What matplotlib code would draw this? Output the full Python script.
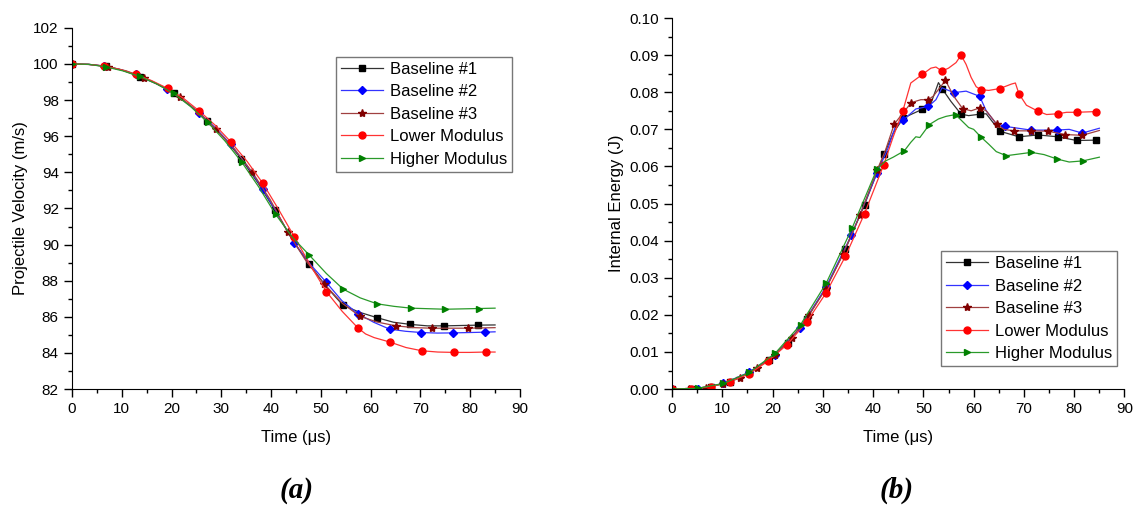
import matplotlib
matplotlib.use("Agg")
import matplotlib.pyplot as plt
from matplotlib.ticker import MultipleLocator, FormatStrFormatter

plt.rcParams['font.family'] = ['Liberation Sans', 'DejaVu Sans']

labels = ['Baseline #1', 'Baseline #2', 'Baseline #3', 'Lower Modulus', 'Higher Modulus']
colors = ['black', '#0000ff', '#800000', '#ff0000', '#008000']
line_colors = ['#333333', '#3333ff', '#a04040', '#ff3333', '#2a9a2a']
markers = ['s', 'D', '*', 'o', '>']
msizes = [4.5, 4, 6, 5, 5]

# (a) projectile velocity, m/s; marker points
vel_t = [
    [0, 6.8, 13.6, 20.4, 27.2, 34.0, 40.8, 47.6, 54.4, 61.2, 68.0, 74.8, 81.6],
    [0, 6.4, 12.8, 19.1, 25.5, 31.9, 38.3, 44.7, 51.0, 57.4, 63.8, 70.2, 76.6, 82.9],
    [0, 7.2, 14.5, 21.7, 28.9, 36.2, 43.4, 50.7, 57.9, 65.1, 72.4, 79.6],
    [0, 6.4, 12.8, 19.2, 25.6, 32.0, 38.3, 44.7, 51.1, 57.5, 63.9, 70.3, 76.7, 83.1],
    [0, 6.8, 13.6, 20.4, 27.3, 34.1, 40.9, 47.7, 54.5, 61.3, 68.1, 75.0, 81.8],
]
vel_v = [
    [100, 99.88, 99.3, 98.4, 96.85, 94.75, 91.9, 88.95, 86.65, 85.96, 85.58, 85.5, 85.54],
    [100, 99.88, 99.42, 98.62, 97.3, 95.55, 93.1, 90.07, 87.94, 86.18, 85.32, 85.13, 85.11, 85.15],
    [100, 99.86, 99.25, 98.15, 96.4, 94.02, 90.67, 87.81, 86.02, 85.5, 85.37, 85.37],
    [100, 99.88, 99.42, 98.65, 97.39, 95.66, 93.41, 90.42, 87.4, 85.37, 84.6, 84.12, 84.03, 84.05],
    [100, 99.84, 99.31, 98.37, 96.76, 94.57, 91.68, 89.41, 87.53, 86.72, 86.48, 86.42, 86.46],
]
# line-only points between markers
vel_tx = [
    [3.4, 10.2, 17.0, 23.8, 30.6, 37.4, 44.2, 51.0, 57.8, 64.6, 71.4, 78.2, 85.0],
    [3.2, 9.6, 16.0, 22.3, 28.7, 35.1, 41.5, 47.9, 54.2, 60.6, 67.0, 73.4, 79.8, 85.0],
    [3.6, 10.9, 18.1, 25.3, 32.6, 39.8, 47.0, 54.3, 61.5, 68.8, 76.0, 85.0],
    [3.2, 9.6, 16.0, 22.4, 28.8, 35.2, 41.5, 47.9, 54.3, 59.0, 60.7, 67.1, 73.5, 79.9, 85.0],
    [3.4, 10.2, 17.0, 23.8, 30.7, 37.5, 44.3, 51.1, 57.9, 64.7, 71.5, 78.4, 85.0],
]
vel_vx = [
    [99.98, 99.65, 98.9, 97.7, 95.9, 93.4, 90.3, 87.7, 86.25, 85.7, 85.5, 85.52, 85.55],
    [99.98, 99.7, 99.05, 98.0, 96.5, 94.4, 91.6, 88.9, 86.9, 85.7, 85.2, 85.1, 85.13, 85.17],
    [99.97, 99.62, 98.75, 97.35, 95.3, 92.5, 89.1, 86.75, 85.7, 85.4, 85.37, 85.4],
    [99.98, 99.7, 99.08, 98.1, 96.6, 94.6, 91.95, 88.85, 86.3, 85.05, 84.85, 84.3, 84.05, 84.03, 84.05],
    [99.98, 99.62, 98.9, 97.65, 95.75, 93.2, 90.4, 88.4, 87.05, 86.58, 86.45, 86.44, 86.48],
]

# (b) internal energy, J; marker points
en_t = [
    [0, 3.8, 7.7, 11.5, 15.3, 19.2, 23.0, 26.8, 30.7, 34.5, 38.3, 42.2, 46.0, 49.8, 53.7,
     57.5, 61.3, 65.2, 69.0, 72.8, 76.7, 80.5, 84.4],
    [0, 5.1, 10.2, 15.3, 20.4, 25.5, 30.6, 35.7, 40.8, 45.9, 51.0, 56.1, 61.2, 66.3, 71.4,
     76.5, 81.6],
    [0, 3.4, 6.8, 10.2, 13.6, 17.0, 20.4, 23.8, 27.2, 30.6, 34.0, 37.4, 40.8, 44.2, 47.6,
     51.0, 54.4, 57.8, 61.2, 64.6, 68.0, 71.4, 74.8, 78.2, 81.6],
    [0, 3.8, 7.7, 11.5, 15.3, 19.1, 22.9, 26.8, 30.6, 34.5, 38.3, 42.1, 45.9, 49.8, 53.7,
     57.5, 61.4, 65.2, 69.0, 72.8, 76.7, 80.5, 84.4],
    [0, 5.1, 10.2, 15.4, 20.5, 25.6, 30.7, 35.8, 40.8, 46.2, 51.2, 56.4, 61.4, 66.5, 71.5,
     76.6, 81.7],
]
en_e = [
    [0, 0.0001, 0.0006, 0.0020, 0.0043, 0.0078, 0.0125, 0.0189, 0.0275, 0.0377, 0.0497,
     0.0633, 0.0730, 0.0754, 0.0810, 0.0741, 0.0741, 0.0695, 0.0680, 0.0685, 0.0680,
     0.0670, 0.0671],
    [0, 0.0001, 0.0015, 0.0045, 0.0092, 0.0165, 0.0274, 0.0415, 0.0583, 0.0724, 0.0762,
     0.0799, 0.0789, 0.0708, 0.0698, 0.0698, 0.0690],
    [0, 0.0001, 0.0004, 0.0014, 0.0030, 0.0057, 0.0092, 0.0138, 0.0199, 0.0270, 0.0363,
     0.0469, 0.0590, 0.0714, 0.0772, 0.0780, 0.0832, 0.0756, 0.0758, 0.0714, 0.0696,
     0.0696, 0.0695, 0.0686, 0.0684],
    [0, 0.0001, 0.0006, 0.0020, 0.0041, 0.0075, 0.0120, 0.0181, 0.0258, 0.0358, 0.0473,
     0.0604, 0.0749, 0.0848, 0.0857, 0.0900, 0.0807, 0.0810, 0.0796, 0.0749, 0.0742,
     0.0746, 0.0748],
    [0, 0.0002, 0.0015, 0.0045, 0.0096, 0.0174, 0.0286, 0.0433, 0.0594, 0.0642, 0.0713,
     0.0740, 0.0680, 0.0629, 0.0638, 0.0620, 0.0615],
]
en_tx = [
    [44.0, 47.5, 51.5, 53.0, 55.5, 59.0, 62.5, 85.0],
    [43.0, 44.5, 48.5, 52.5, 53.7, 58.5, 62.5, 64.5, 79.0, 85.0],
    [42.5, 46.0, 49.5, 52.0, 56.0, 59.5, 62.5, 66.0, 85.0],
    [44.0, 47.5, 51.5, 52.5, 55.0, 56.5, 58.5, 59.5, 60.5, 63.0, 67.5, 68.3, 70.5, 74.5,
     78.5, 85.0],
    [42.5, 44.0, 47.5, 48.5, 49.3, 53.0, 54.5, 57.5, 59.0, 60.0, 63.0, 64.5, 74.0, 79.0, 85.0],
]
en_ex = [
    [0.0690, 0.0740, 0.0770, 0.0826, 0.0775, 0.0737, 0.0742, 0.0672],
    [0.0650, 0.0710, 0.0755, 0.0780, 0.0812, 0.0803, 0.0750, 0.0715, 0.0700, 0.0703],
    [0.0645, 0.0745, 0.0780, 0.0790, 0.0790, 0.0750, 0.0750, 0.0700, 0.0697],
    [0.0680, 0.0825, 0.0865, 0.0868, 0.0865, 0.0880, 0.0875, 0.0840, 0.0815, 0.0805,
     0.0822, 0.0825, 0.0765, 0.0740, 0.0746, 0.0748],
    [0.0615, 0.0625, 0.0665, 0.0680, 0.0678, 0.0728, 0.0735, 0.0725, 0.0705, 0.0700,
     0.0660, 0.0640, 0.0632, 0.0612, 0.0625],
]


def merge(t, y, tx, yx):
    pts = [(a, b, True) for a, b in zip(t, y)] + [(a, b, False) for a, b in zip(tx, yx)]
    pts.sort(key=lambda p: p[0])
    xs = [p[0] for p in pts]
    ys = [p[1] for p in pts]
    marks = [i for i, p in enumerate(pts) if p[2]]
    return xs, ys, marks


def style_axes(ax):
    for s in ['top', 'right']:
        ax.spines[s].set_visible(False)
    ax.tick_params(which='major', direction='out', length=6, width=1, labelsize=11)
    ax.tick_params(which='minor', direction='out', length=3, width=1)
    ax.set_xlim(0, 90)
    ax.xaxis.set_major_locator(MultipleLocator(10))
    ax.xaxis.set_minor_locator(MultipleLocator(5))
    ax.set_xlabel('Time (\u03bcs)', fontsize=12, labelpad=10)


def draw(ax, tt, yy, ttx, yyx):
    for i in range(5):
        xs, ys, marks = merge(tt[i], yy[i], ttx[i], yyx[i])
        ax.plot(xs, ys, color=line_colors[i], lw=0.9, marker=markers[i], markevery=marks,
                markersize=msizes[i], markerfacecolor=colors[i], markeredgecolor=colors[i],
                label=labels[i])


def add_legend(ax, anchor):
    ax.legend(loc='upper left', bbox_to_anchor=anchor, fontsize=12, frameon=True,
              fancybox=False, edgecolor='#555555', borderpad=0.3, handlelength=2.5,
              labelspacing=0.45, handletextpad=0.4, borderaxespad=0)


fig = plt.figure(figsize=(11.37, 5.16), dpi=100)

ax1 = fig.add_axes([0.0633, 0.246, 0.394, 0.700])
draw(ax1, vel_t, vel_v, vel_tx, vel_vx)
style_axes(ax1)
ax1.set_ylim(82, 102)
ax1.yaxis.set_major_locator(MultipleLocator(2))
ax1.yaxis.set_minor_locator(MultipleLocator(1))
ax1.set_ylabel('Projectile Velocity (m/s)', fontsize=12)
add_legend(ax1, (0.59, 0.92))

ax2 = fig.add_axes([0.591, 0.246, 0.398, 0.719])
draw(ax2, en_t, en_e, en_tx, en_ex)
style_axes(ax2)
ax2.set_ylim(0, 0.10)
ax2.yaxis.set_major_locator(MultipleLocator(0.01))
ax2.yaxis.set_minor_locator(MultipleLocator(0.005))
ax2.yaxis.set_major_formatter(FormatStrFormatter('%.2f'))
ax2.set_ylabel('Internal Energy (J)', fontsize=12)
add_legend(ax2, (0.595, 0.372))

fig.text(0.261, 0.035, '(a)', fontsize=21, fontweight='bold', fontstyle='italic',
         family='Liberation Serif', ha='center')
fig.text(0.789, 0.035, '(b)', fontsize=21, fontweight='bold', fontstyle='italic',
         family='Liberation Serif', ha='center')

fig.savefig('out.png', dpi=100)
